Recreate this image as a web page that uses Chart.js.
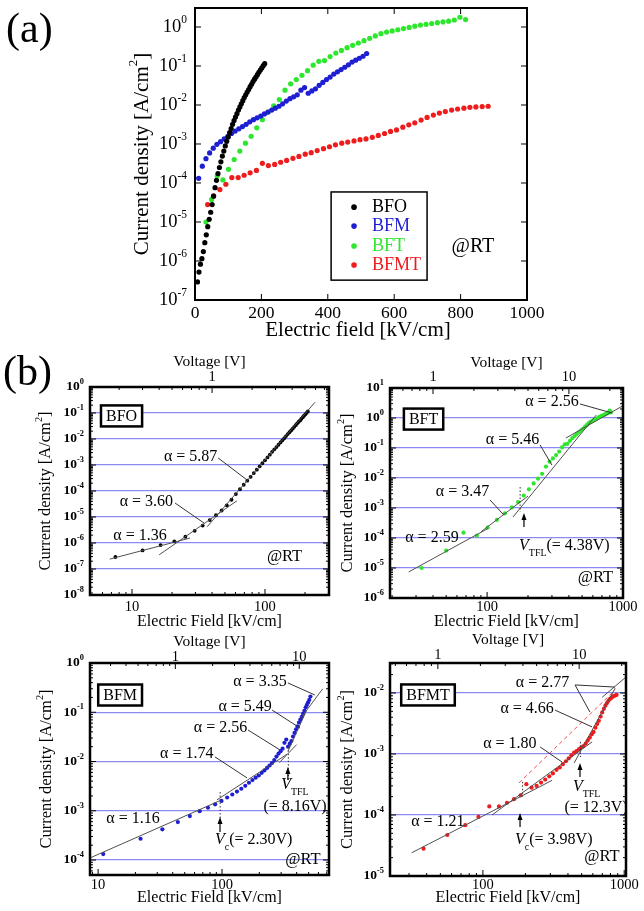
<!DOCTYPE html>
<html><head><meta charset="utf-8">
<script src="https://cdn.jsdelivr.net/npm/chart.js@4.4.0/dist/chart.umd.min.js"></script>
<style>
html,body{margin:0;padding:0;background:#fff;}
#wrap{position:relative;width:644px;height:911px;overflow:hidden;background:#fff;}
#wrap canvas{position:absolute;left:0;top:0;}
.plabel{position:absolute;font-family:"Liberation Serif",serif;font-size:42px;line-height:1;color:#000;}
</style></head><body>
<div id="wrap">
<canvas id="ca" width="644" height="911"></canvas>
<canvas id="cb1" width="644" height="911"></canvas>
<canvas id="cb2" width="644" height="911"></canvas>
<canvas id="cb3" width="644" height="911"></canvas>
<canvas id="cb4" width="644" height="911"></canvas>
<div class="plabel" style="left:6px;top:7px">(a)</div>
<div class="plabel" style="left:3px;top:350px">(b)</div>
</div>
<script>
// ---------------- DATA ----------------
const seriesNames = ['BFO', 'BFM', 'BFT', 'BFMT'];
const seriesColors = ['#000000', '#1f1fd2', '#2ee62e', '#ee1c1c'];

const bfoField = [7.5,12,16.4,20.8,25.2,29.6,34,38.4,42.8,47.2,51.6,56,60.4,64.8,69.2,73.6,78,82.4,86.8,91.2,95.6,100,104.4,108.8,113.2,117.6,122,126.4,130.8,135.2,139.6,144,148.4,152.8,157.2,161.6,166,170.4,174.8,179.2,183.6,188,192.4,196.8,201.2,205.6,210];
const bfoJ = [2.9e-7,5.2e-7,8.3e-7,1.15e-6,1.74e-6,2.95e-6,4.7e-6,7.6e-6,1.17e-5,1.78e-5,2.8e-5,4.6e-5,7.6e-5,1.17e-4,1.74e-4,2.5e-4,3.5e-4,4.9e-4,6.6e-4,8.9e-4,1.17e-3,1.51e-3,1.95e-3,2.5e-3,3.2e-3,4.0e-3,4.9e-3,6.0e-3,7.4e-3,8.9e-3,1.07e-2,1.29e-2,1.55e-2,1.82e-2,2.14e-2,2.5e-2,2.95e-2,3.4e-2,4.0e-2,4.6e-2,5.2e-2,6.0e-2,6.9e-2,7.9e-2,8.9e-2,0.102,0.115];

const bfmField = [11,22,33,44,55,66,77,88,99,110,121,132,143,154,165,176,187,198,209,220,231,242,253,264,275,286,297,308,319,330,341,352,363,374,385,396,407,418,429,440,451,462,473,484,495,506,517];
const bfmJ = [1.32e-4,2.7e-4,4.2e-4,5.9e-4,7.8e-4,9.8e-4,1.15e-3,1.35e-3,1.58e-3,1.86e-3,2.14e-3,2.45e-3,2.8e-3,3.2e-3,3.7e-3,4.2e-3,4.7e-3,5.2e-3,5.9e-3,6.6e-3,7.4e-3,8.3e-3,9.3e-3,1.07e-2,1.26e-2,1.45e-2,1.62e-2,1.82e-2,2.4e-2,2.8e-2,2.0e-2,2.3e-2,2.6e-2,3.2e-2,3.8e-2,4.5e-2,5.2e-2,6.2e-2,7.1e-2,8.1e-2,9.3e-2,0.107,0.126,0.141,0.158,0.178,0.209];

const bftField = [33,50,67,84,101,118,135,152,169,186,203,220,237,254,271,288,305,322,339,356,373,390,407,424,441,458,475,492,509,526,543,560,577,594,611,628,645,662,679,696,713,730,747,764,781,798,815];
const bftJ = [1.0e-5,3.8e-5,1.51e-4,1.2e-4,2.24e-4,4.0e-4,6.6e-4,1.05e-3,1.58e-3,2.6e-3,4.2e-3,6.6e-3,9.5e-3,1.38e-2,2.4e-2,3.5e-2,4.5e-2,5.8e-2,7.6e-2,0.105,0.132,0.138,0.174,0.214,0.251,0.295,0.339,0.389,0.447,0.513,0.589,0.676,0.741,0.794,0.851,0.912,0.977,1.05,1.12,1.17,1.23,1.29,1.35,1.41,1.51,1.78,1.55];

const bfmtField = [38,56,75,93,111,130,148,166,185,203,221,240,258,276,295,313,332,350,368,387,405,423,442,460,479,497,515,534,552,571,589,607,626,644,662,681,699,718,736,754,773,791,810,828,846,865,883];
const bfmtJ = [2.8e-5,4.7e-5,6.8e-5,9.3e-5,1.38e-4,1.38e-4,1.58e-4,1.82e-4,2.1e-4,3.2e-4,2.8e-4,3.0e-4,3.4e-4,3.8e-4,4.3e-4,4.8e-4,5.5e-4,6.0e-4,6.8e-4,7.6e-4,8.5e-4,9.5e-4,1.05e-3,1.12e-3,1.2e-3,1.29e-3,1.35e-3,1.48e-3,1.66e-3,1.86e-3,2.1e-3,2.3e-3,2.7e-3,3.1e-3,3.5e-3,4.1e-3,4.8e-3,5.5e-3,6.2e-3,6.8e-3,7.4e-3,7.9e-3,8.3e-3,8.7e-3,8.9e-3,9.1e-3,9.3e-3];

// panel (a) axis ticks
const fieldTicksA = [0,200,400,600,800,1000];
const currentTicksA = [1e-7,1e-6,1e-5,1e-4,1e-3,1e-2,1e-1,1];

// fitted power-law lines (E [kV/cm], J [A/cm2]) and marker lines
const bfoFitLines = [[[6.8,2.4e-7],[27.3,1.55e-6]], [[16,3.5e-7],[61.5,4.2e-5]], [[36.7,4.2e-6],[238,0.26]]];
const bftFitLines = [[[26.5,7.4e-6],[102,2.1e-4]], [[90,1.6e-4],[200,2.5e-3]], [[155,5.0e-4],[636,1.26]], [[380,0.215],[1000,2.57]]];
const bftMarkLines = [[[175,5e-3],[175,7.4e-4]]];
const bfmFitLines = [[[8.6,1.1e-4],[96,1.6e-3]], [[91,1.66e-3],[334,1.4e-2]], [[290,9.5e-3],[400,2.2e-2]], [[340,1.6e-2],[480,0.108]], [[430,7.5e-2],[650,0.30]]];
const bfmMarkLines = [[[96.6,2.4e-3],[96.6,5.7e-4]], [[343,2.0e-2],[343,4.2e-3]]];
const bfmtFitLines = [[[31.3,2.4e-5],[309,3.7e-4]], [[116,1.0e-4],[593,1.58e-3]], [[442,7.1e-4],[863,1.2e-2]], [[698,8.5e-3],[1016,1.78e-2]]];
const bfmtDashLine = [[180,3.35e-4],[863,1.12e-2]];
const bfmtMarkLines = [[[191,3.5e-4],[191,2.0e-4]], [[490,1.58e-3],[490,8.9e-4]]];

// ---------------- LAYOUT / STYLE ----------------
const FONT = '"Liberation Serif","Times New Roman",Times,serif';
const W = 644, H = 911;

function drawRich(ctx, parts, x, y, size, align, base) {
  base = base || '';
  const segs = parts.map(p => {
    const s = (p.sup || p.sub) ? size * 0.62 : size;
    const st = (p.it ? 'italic ' : '') + base;
    ctx.font = st + s + 'px ' + FONT;
    return { p, s, st, w: ctx.measureText(p.t).width };
  });
  const total = segs.reduce((a, b) => a + b.w, 0);
  let cx = align === 'center' ? x - total / 2 : align === 'right' ? x - total : x;
  ctx.textAlign = 'left'; ctx.textBaseline = 'middle';
  for (const g of segs) {
    ctx.font = g.st + g.s + 'px ' + FONT;
    const dy = g.p.sup ? -size * 0.38 : g.p.sub ? size * 0.45 : 0;
    ctx.fillText(g.p.t, cx, y + dy);
    cx += g.w;
  }
  return total;
}
function pow10(n) { return [{ t: '10' }, { t: String(n), sup: true }]; }
function logTicks(min, max) {
  const major = [], minor = [];
  for (let e = Math.floor(Math.log10(min)) - 1; e <= Math.ceil(Math.log10(max)); e++) {
    const b = Math.pow(10, e);
    for (let k = 1; k < 10; k++) {
      const v = k * b;
      if (v < min * 0.999 || v > max * 1.001) continue;
      (k === 1 ? major : minor).push(v);
    }
  }
  return { major, minor };
}
const yTitleParts = [{ t: 'Current density [A/cm' }, { t: '2', sup: true }, { t: ']' }];

const decor = {
  id: 'decor',
  afterDraw(chart, args, o) {
    const sp = o.spec; if (!sp) return;
    const ctx = chart.ctx, ca = chart.chartArea;
    const xs = chart.scales.x, ys = chart.scales.y, vs = chart.scales.v;
    const PW = ca.right - ca.left, PH = ca.bottom - ca.top;
    const fx = f => ca.left + f * PW, fy = f => ca.top + f * PH;
    const line = (x1, y1, x2, y2) => { ctx.beginPath(); ctx.moveTo(x1, y1); ctx.lineTo(x2, y2); ctx.stroke(); };
    ctx.save();
    ctx.fillStyle = '#000'; ctx.strokeStyle = '#000'; ctx.lineWidth = 1;
    if (sp.kind === 'a') {
      for (const v of fieldTicksA) { const p = xs.getPixelForValue(v); line(p, ca.bottom, p, ca.bottom - 6); line(p, ca.top, p, ca.top + 6); }
      for (const v of currentTicksA) { const p = ys.getPixelForValue(v); line(ca.left, p, ca.left + 6, p); line(ca.right, p, ca.right - 6, p); }
      for (const v of fieldTicksA) drawRich(ctx, [{ t: String(v) }], xs.getPixelForValue(v), ca.bottom + 13, 17.5, 'center');
      for (const v of currentTicksA) drawRich(ctx, pow10(Math.round(Math.log10(v))), ca.left - 8, ys.getPixelForValue(v), 18.5, 'right');
      drawRich(ctx, [{ t: 'Electric field [kV/cm]' }], 358, sp.xTitleY, 21, 'center');
      ctx.save(); ctx.translate(sp.yTitleX, (ca.top + ca.bottom) / 2); ctx.rotate(-Math.PI / 2);
      drawRich(ctx, yTitleParts, 0, 0, 21, 'center'); ctx.restore();
      // legend
      const lg = sp.legend;
      ctx.lineWidth = 1.5; ctx.strokeRect(fx(lg.x1), fy(lg.y1), fx(lg.x2) - fx(lg.x1), fy(lg.y2) - fy(lg.y1));
      seriesNames.forEach((n, i) => {
        const yy = fy(lg.rows[i]);
        ctx.fillStyle = seriesColors[i];
        ctx.beginPath(); ctx.arc(fx(lg.dot), yy, 2.8, 0, Math.PI * 2); ctx.fill();
        drawRich(ctx, [{ t: n }], fx(lg.text), yy, 18, 'left');
      });
      ctx.fillStyle = '#000';
      drawRich(ctx, [{ t: '@RT' }], fx(sp.rt[0]), fy(sp.rt[1]), 20, 'center');
    } else {
      // bottom field ticks
      const xt = logTicks(xs.min, xs.max);
      for (const v of xt.major) { const p = xs.getPixelForValue(v); line(p, ca.bottom, p, ca.bottom - 6); }
      for (const v of xt.minor) { const p = xs.getPixelForValue(v); line(p, ca.bottom, p, ca.bottom - 3); }
      for (const v of xt.major) drawRich(ctx, [{ t: String(Math.round(v)) }], xs.getPixelForValue(v), sp.xLabelY, 14.5, 'center');
      // top voltage ticks
      const vt = logTicks(vs.min, vs.max);
      for (const v of vt.major) { const p = vs.getPixelForValue(v); line(p, ca.top, p, ca.top + 6); }
      for (const v of vt.minor) { const p = vs.getPixelForValue(v); line(p, ca.top, p, ca.top + 3); }
      for (const v of vt.major) drawRich(ctx, [{ t: String(Math.round(v)) }], vs.getPixelForValue(v), sp.vLabelY, 14.5, 'center');
      // y ticks
      const yt = logTicks(ys.min, ys.max);
      for (const v of yt.major) { const p = ys.getPixelForValue(v); line(ca.left, p, ca.left + 6, p); line(ca.right, p, ca.right - 6, p); }
      for (const v of yt.minor) { const p = ys.getPixelForValue(v); line(ca.left, p, ca.left + 3, p); line(ca.right, p, ca.right - 3, p); }
      for (const v of yt.major) drawRich(ctx, pow10(Math.round(Math.log10(v))), ca.left - 6, ys.getPixelForValue(v), 13.5, 'right', 'bold ');
      // titles
      const cx = (ca.left + ca.right) / 2;
      drawRich(ctx, [{ t: 'Electric Field [kV/cm]' }], cx, sp.xTitleY, 16, 'center');
      drawRich(ctx, [{ t: 'Voltage [V]' }], cx, sp.vTitleY, 15.5, 'center');
      ctx.save(); ctx.translate(sp.yTitleX, (ca.top + ca.bottom) / 2); ctx.rotate(-Math.PI / 2);
      drawRich(ctx, yTitleParts, 0, 0, 16.5, 'center'); ctx.restore();
      // sample box
      ctx.font = '16px ' + FONT;
      const bw = ctx.measureText(sp.box.t).width + 10, bh = 21;
      const bx = fx(sp.box.fx), by = fy(sp.box.fy);
      ctx.fillStyle = '#fff'; ctx.fillRect(bx - bw / 2, by - bh / 2, bw, bh);
      ctx.fillStyle = '#000'; ctx.lineWidth = 2.5; ctx.strokeRect(bx - bw / 2, by - bh / 2, bw, bh);
      drawRich(ctx, [{ t: sp.box.t }], bx, by + 1, 16, 'center');
      // alpha labels + leaders
      ctx.strokeStyle = '#333'; ctx.lineWidth = 1;
      for (const a of sp.alphas) {
        drawRich(ctx, [{ t: 'α = ' + a.t }], fx(a.fx), fy(a.fy), 16, 'center');
        for (const l of (a.lead || [])) line(fx(l[0]), fy(l[1]), fx(l[2]), fy(l[3]));
      }
      // arrows
      ctx.strokeStyle = '#000'; ctx.lineWidth = 1.2;
      for (const ar of (sp.arrows || [])) {
        const x = fx(ar[0]), y1 = fy(ar[1]), y2 = fy(ar[2]);
        line(x, y1, x, y2 + 3);
        ctx.beginPath(); ctx.moveTo(x, y2); ctx.lineTo(x - 2.5, y2 + 7); ctx.lineTo(x + 2.5, y2 + 7); ctx.closePath(); ctx.fill();
      }
      for (const t of (sp.texts || [])) drawRich(ctx, t.parts, fx(t.fx), fy(t.fy), 16, t.align || 'left');
      drawRich(ctx, [{ t: '@RT' }], fx(sp.rt[0]), fy(sp.rt[1]), 16.5, 'center');
    }
    // frame
    ctx.strokeStyle = '#000'; ctx.lineWidth = sp.frameW;
    ctx.strokeRect(ca.left, ca.top, PW, PH);
    ctx.restore();
  }
};

function pts(field, J) { return field.map((e, i) => ({ x: e, y: J[i] })); }
function dotDs(field, J, color, r) {
  return { data: pts(field, J), backgroundColor: color, borderColor: color, pointRadius: r, pointBorderWidth: 0, showLine: false };
}
function lineDs(p, color, width, dash) {
  return { data: p.map(q => ({ x: q[0], y: q[1] })), showLine: true, borderColor: color, borderWidth: width, borderDash: dash || [], pointRadius: 0, fill: false };
}

function makeChart(id, sp, datasets) {
  const edge = v => Math.abs(Math.log10(v) - Math.log10(sp.yMin)) < 0.02 || Math.abs(Math.log10(v) - Math.log10(sp.yMax)) < 0.02;
  const scales = {
    x: { type: sp.kind === 'a' ? 'linear' : 'logarithmic', min: sp.xMin, max: sp.xMax, position: 'bottom',
         ticks: { display: false }, grid: { display: false }, border: { display: false }, afterFit: s => { s.height = 0; } },
    y: { type: 'logarithmic', min: sp.yMin, max: sp.yMax, position: 'left',
         ticks: { display: false }, border: { display: false },
         afterBuildTicks: s => { s.ticks = logTicks(sp.yMin, sp.yMax).major.map(v => ({ value: v })); },
         grid: { display: !!sp.grid, drawTicks: false, lineWidth: 1.2,
                 color: c => (c.tick && !edge(c.tick.value)) ? '#8a8af4' : 'rgba(0,0,0,0)' },
         afterFit: s => { s.width = 0; } }
  };
  if (sp.kind !== 'a') {
    scales.v = { type: 'logarithmic', min: sp.xMin / sp.vFactor, max: sp.xMax / sp.vFactor, position: 'top',
                 ticks: { display: false }, grid: { display: false }, border: { display: false }, afterFit: s => { s.height = 0; } };
  }
  return new Chart(document.getElementById(id), {
    type: 'scatter',
    data: { datasets },
    options: {
      responsive: false, animation: false, devicePixelRatio: 1, events: [],
      layout: { padding: { left: sp.L, top: sp.T, right: W - sp.R, bottom: H - sp.B } },
      plugins: { legend: { display: false }, tooltip: { enabled: false }, decor: { spec: sp } },
      scales
    },
    plugins: [decor]
  });
}

const V = { t: 'V', it: true };
const specA = { kind: 'a', L: 195, T: 8, R: 527, B: 300, xMin: 0, xMax: 1000, yMin: 1e-7, yMax: 3.07, frameW: 2,
  xTitleY: 330, yTitleX: 142, rt: [0.837, 0.818],
  legend: { x1: 0.41, x2: 0.699, y1: 0.63, y2: 0.932, dot: 0.479, text: 0.533, rows: [0.682, 0.747, 0.815, 0.880] } };
const specB1 = { kind: 'b', L: 90, T: 387, R: 329, B: 595, xMin: 4.83, xMax: 303, yMin: 1e-8, yMax: 1, vFactor: 40, grid: true, frameW: 2.5,
  xLabelY: 607, xTitleY: 622, vTitleY: 362, vLabelY: 377, yTitleX: 46,
  box: { t: 'BFO', fx: 0.132, fy: 0.139 }, rt: [0.814, 0.817],
  alphas: [ { t: '5.87', fx: 0.421, fy: 0.337, lead: [[0.536, 0.341, 0.657, 0.447]] },
            { t: '3.60', fx: 0.236, fy: 0.553, lead: [[0.356, 0.558, 0.477, 0.654]] },
            { t: '1.36', fx: 0.209, fy: 0.716 } ] };
const specB2 = { kind: 'b', L: 390, T: 388, R: 623, B: 598, xMin: 19.3, xMax: 1000, yMin: 1e-6, yMax: 10, vFactor: 40, grid: true, frameW: 2.5,
  xLabelY: 607, xTitleY: 622, vTitleY: 363, vLabelY: 377, yTitleX: 348,
  box: { t: 'BFT', fx: 0.144, fy: 0.148 }, rt: [0.882, 0.905],
  alphas: [ { t: '2.56', fx: 0.695, fy: 0.065, lead: [[0.815, 0.076, 0.953, 0.119]] },
            { t: '5.46', fx: 0.526, fy: 0.248, lead: [[0.644, 0.271, 0.695, 0.367]] },
            { t: '3.47', fx: 0.311, fy: 0.494, lead: [[0.429, 0.533, 0.489, 0.605]] },
            { t: '2.59', fx: 0.180, fy: 0.714 } ],
  arrows: [[0.575, 0.662, 0.595]],
  texts: [ { parts: [V, { t: 'TFL', sub: true }, { t: '(= 4.38V)' }], fx: 0.554, fy: 0.752 } ] };
const specB3 = { kind: 'b', L: 90, T: 663, R: 329, B: 875, xMin: 8.6, xMax: 730, yMin: 4.96e-5, yMax: 1, vFactor: 42, grid: true, frameW: 2.5,
  xLabelY: 885, xTitleY: 898, vTitleY: 642, vLabelY: 657, yTitleX: 47,
  box: { t: 'BFM', fx: 0.126, fy: 0.151 }, rt: [0.891, 0.929],
  alphas: [ { t: '3.35', fx: 0.711, fy: 0.088, lead: [[0.828, 0.094, 0.941, 0.151]] },
            { t: '5.49', fx: 0.649, fy: 0.206, lead: [[0.762, 0.222, 0.879, 0.307]] },
            { t: '2.56', fx: 0.546, fy: 0.308, lead: [[0.661, 0.316, 0.795, 0.410]] },
            { t: '1.74', fx: 0.405, fy: 0.426, lead: [[0.523, 0.443, 0.657, 0.542]] },
            { t: '1.16', fx: 0.180, fy: 0.733 } ],
  arrows: [[0.544, 0.797, 0.726], [0.828, 0.552, 0.491]],
  texts: [ { parts: [V, { t: 'c', sub: true }, { t: '(= 2.30V)' }], fx: 0.523, fy: 0.835 },
           { parts: [V, { t: 'TFL', sub: true }], fx: 0.80, fy: 0.575 },
           { parts: [{ t: '(= 8.16V)' }], fx: 0.858, fy: 0.679, align: 'center' } ] };
const specB4 = { kind: 'b', L: 390, T: 663, R: 626, B: 876, xMin: 22, xMax: 1030, yMin: 1e-5, yMax: 0.031, vFactor: 48, grid: true, frameW: 2.5,
  xLabelY: 885, xTitleY: 898, vTitleY: 640, vLabelY: 655, yTitleX: 348,
  box: { t: 'BFMT', fx: 0.161, fy: 0.150 }, rt: [0.898, 0.909],
  alphas: [ { t: '2.77', fx: 0.646, fy: 0.095, lead: [[0.784, 0.103, 0.847, 0.230], [0.784, 0.103, 0.953, 0.113]] },
            { t: '4.66', fx: 0.581, fy: 0.213, lead: [[0.699, 0.221, 0.856, 0.300]] },
            { t: '1.80', fx: 0.508, fy: 0.377, lead: [[0.636, 0.394, 0.729, 0.465]] },
            { t: '1.21', fx: 0.203, fy: 0.745 } ],
  arrows: [[0.551, 0.770, 0.704], [0.805, 0.535, 0.469]],
  texts: [ { parts: [V, { t: 'c', sub: true }, { t: '(= 3.98V)' }], fx: 0.530, fy: 0.831 },
           { parts: [V, { t: 'TFL', sub: true }], fx: 0.775, fy: 0.582 },
           { parts: [{ t: '(= 12.3V)' }], fx: 0.873, fy: 0.678, align: 'center' } ] };

const FIT = '#505050';
makeChart('ca', specA, [
  dotDs(bfoField, bfoJ, seriesColors[0], 2.6),
  dotDs(bfmField, bfmJ, seriesColors[1], 2.6),
  dotDs(bftField, bftJ, seriesColors[2], 2.6),
  dotDs(bfmtField, bfmtJ, seriesColors[3], 2.6)
]);
makeChart('cb1', specB1, [
  ...bfoFitLines.map(p => lineDs(p, FIT, 1)),
  dotDs(bfoField, bfoJ, seriesColors[0], 1.9)
]);
makeChart('cb2', specB2, [
  ...bftFitLines.map(p => lineDs(p, FIT, 1)),
  ...bftMarkLines.map(p => lineDs(p, '#333', 1, [1.5, 2])),
  dotDs(bftField, bftJ, seriesColors[2], 2.1)
]);
makeChart('cb3', specB3, [
  ...bfmFitLines.map(p => lineDs(p, FIT, 1)),
  ...bfmMarkLines.map(p => lineDs(p, '#333', 1, [1.5, 2])),
  dotDs(bfmField, bfmJ, seriesColors[1], 2.1)
]);
makeChart('cb4', specB4, [
  ...bfmtFitLines.map(p => lineDs(p, FIT, 1)),
  lineDs(bfmtDashLine, '#f05050', 1, [4, 3]),
  ...bfmtMarkLines.map(p => lineDs(p, '#333', 1, [1.5, 2])),
  dotDs(bfmtField, bfmtJ, seriesColors[3], 2.1)
]);
</script>
</body></html>
